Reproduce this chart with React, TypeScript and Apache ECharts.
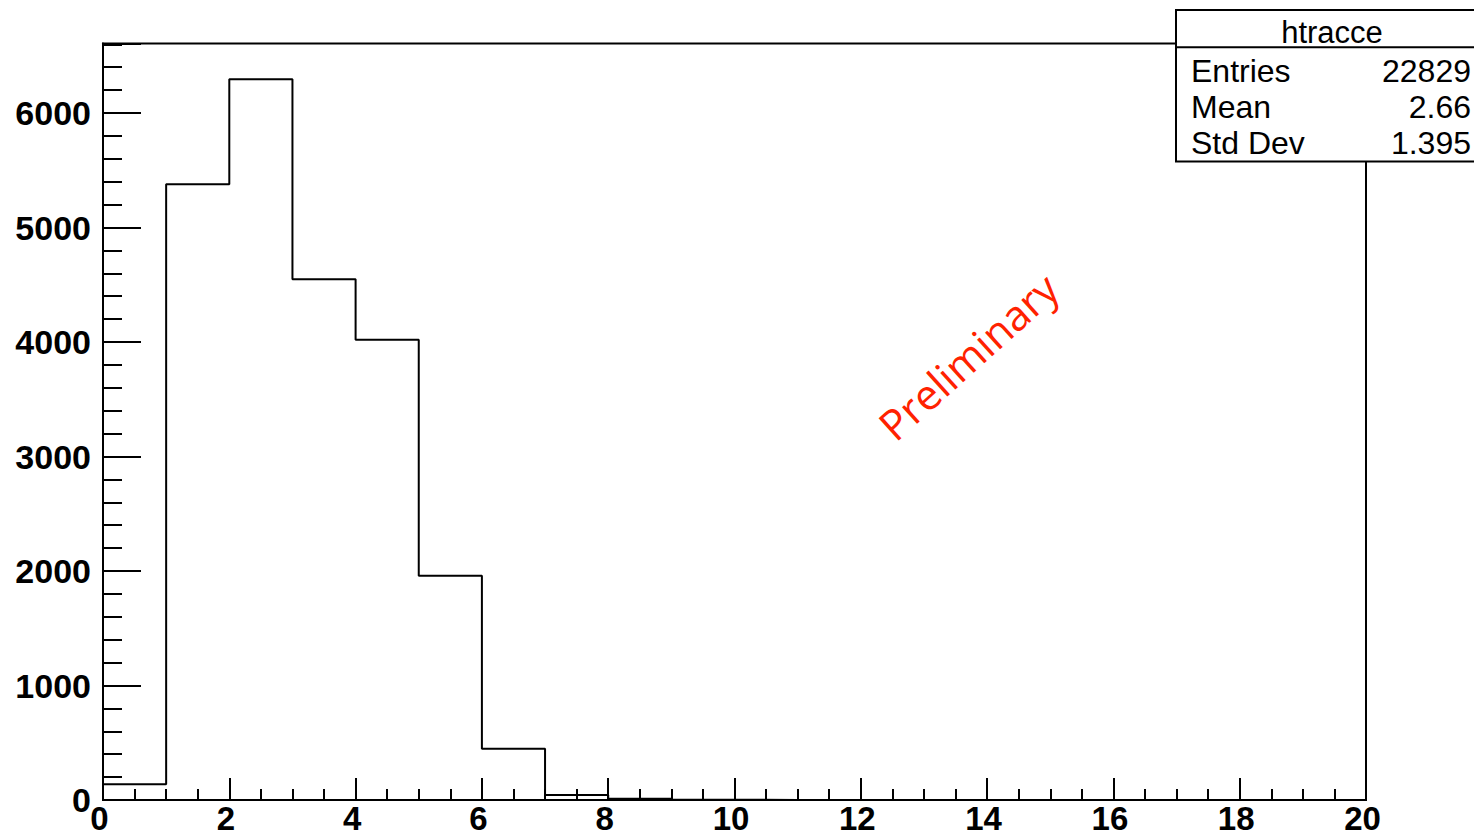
import React, { useEffect, useRef } from "react";
import * as echarts from "echarts";

const binEdges = [0, 1, 2, 3, 4, 5, 6, 7, 8, 9, 10, 11, 12, 13, 14, 15, 16, 17, 18, 19];
const binCounts = [137, 5377, 6294, 4548, 4020, 1959, 448, 44, 10, 3, 0, 0, 0, 0, 0, 0, 0, 0, 0, 0];
const xMax = 20;
const yMax = 6607;
const statsTitle = "htracce";
const statsLabels = ["Entries", "Mean", "Std Dev"];
const statsValues = ["22829", "2.66", "1.395"];
const watermark = "Preliminary";

export default function App() {
  const ref = useRef<HTMLDivElement>(null);
  useEffect(() => {
    document.body.style.margin = "0";
    const chart = echarts.init(ref.current!, null, { renderer: "svg" });
    const data: [number, number][] = binEdges.map((x, i) => [x, binCounts[i]]);
    data.push([xMax, 0]);
    const font = "'Liberation Sans', Arial, Helvetica, sans-serif";
    chart.setOption({
      animation: false,
      backgroundColor: "#fff",
      grid: {
        left: 103,
        right: 108,
        top: 43.5,
        bottom: 36,
        show: true,
        borderColor: "#000",
        borderWidth: 2,
        backgroundColor: "transparent",
      },
      xAxis: {
        type: "value",
        min: 0,
        max: xMax,
        interval: 2,
        axisLine: { show: true, onZero: false, lineStyle: { color: "#000", width: 2 } },
        axisTick: { show: true, inside: true, length: 22, lineStyle: { color: "#000", width: 2 } },
        minorTick: { show: true, splitNumber: 4, length: 11, lineStyle: { color: "#000", width: 2 } },
        splitLine: { show: false },
        axisLabel: {
          color: "#000",
          fontFamily: font,
          fontWeight: "bold",
          fontSize: 33,
          lineHeight: 30,
          margin: 3,
          padding: [0, 7, 0, 0],
          formatter: (v: number) => String(v),
        },
      },
      yAxis: {
        type: "value",
        min: 0,
        max: yMax,
        interval: 1000,
        axisLine: { show: true, onZero: false, lineStyle: { color: "#000", width: 2 } },
        axisTick: { show: true, inside: true, length: 38, lineStyle: { color: "#000", width: 2 } },
        minorTick: { show: true, splitNumber: 5, length: 19, lineStyle: { color: "#000", width: 2 } },
        splitLine: { show: false },
        axisLabel: {
          color: "#000",
          fontFamily: font,
          fontWeight: "bold",
          fontSize: 34,
          margin: 12,
          showMaxLabel: false,
          formatter: (v: number) => String(v),
        },
      },
      series: [
        {
          type: "line",
          step: "end",
          data,
          symbol: "none",
          lineStyle: { color: "#000", width: 2 },
          z: 3,
        },
      ],
      graphic: [
        {
          type: "text",
          x: 968,
          y: 356,
          rotation: (42 * Math.PI) / 180,
          style: {
            text: watermark,
            fill: "#ff2200",
            font: "42px 'Open Sans', 'Noto Sans', sans-serif",
            align: "center",
            verticalAlign: "middle",
          },
          z: 10,
        },
        {
          type: "group",
          z: 20,
          children: [
            {
              type: "rect",
              shape: { x: 1176, y: 10, width: 310, height: 151.5 },
              style: { fill: "#fff", stroke: "#000", lineWidth: 2 },
            },
            {
              type: "line",
              shape: { x1: 1176, y1: 47.3, x2: 1480, y2: 47.3 },
              style: { stroke: "#000", lineWidth: 2 },
            },
            {
              type: "text",
              x: 1332,
              y: 32,
              style: {
                text: statsTitle,
                fill: "#000",
                font: `31px ${font}`,
                align: "center",
                verticalAlign: "middle",
              },
            },
            ...statsLabels.map((t, i) => ({
              type: "text",
              x: 1191,
              y: 71 + i * 36,
              style: { text: t, fill: "#000", font: `32px ${font}`, align: "left", verticalAlign: "middle" },
            })),
            ...statsValues.map((t, i) => ({
              type: "text",
              x: 1471,
              y: 71 + i * 36,
              style: { text: t, fill: "#000", font: `32px ${font}`, align: "right", verticalAlign: "middle" },
            })),
          ],
        },
      ],
    });
    return () => chart.dispose();
  }, []);
  return <div ref={ref} style={{ width: 1474, height: 836 }} />;
}
